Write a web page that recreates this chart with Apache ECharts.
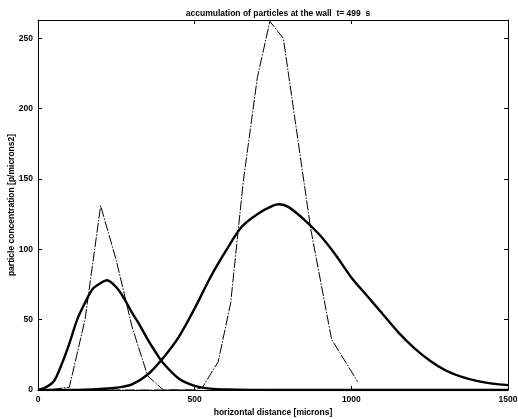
<!DOCTYPE html>
<html>
<head>
<meta charset="utf-8">
<script src="https://cdn.jsdelivr.net/npm/echarts@6/dist/echarts.min.js"></script>
<style>
  html, body { margin: 0; padding: 0; background: #fff; }
  #chart { width: 518px; height: 419px; }
</style>
</head>
<body>
<div id="chart"></div>
<script>
// wide-band curves (thick solid)
const xA = [0, 25, 50, 75, 100, 125, 150, 175, 200, 220, 250, 275, 300, 325, 350, 375, 400, 450, 500, 550, 600, 700, 800, 1500]
const yA = [0, 2, 6, 18, 33, 50, 62, 72, 76, 78, 73, 65, 55, 46, 36, 27, 19, 8, 3, 1, 0.4, 0.1, 0, 0]
const xB = [0, 100, 150, 200, 250, 300, 350, 400, 450, 500, 550, 600, 650, 700, 750, 770, 800, 850, 900, 950, 1000, 1050, 1100, 1150, 1200, 1250, 1300, 1350, 1400, 1450, 1500]
const yB = [0, 0.1, 0.3, 0.8, 1.6, 4, 11, 23, 38, 58, 80, 99, 116, 125, 131, 132, 130, 121, 110, 96, 80, 67, 54, 41, 30, 21, 14, 9.5, 6.5, 4.5, 3.5]
// narrow-band curves (thin dash-dot)
const xC = [0, 50, 100, 150, 200, 250, 300, 350, 400, 500]
const yC = [0, 0.5, 2, 50, 131, 92, 45, 10, 0, 0]
const xD = [0, 500, 525, 575, 615, 655, 700, 740, 783, 870, 937, 1020]
const yD = [0, 0, 2, 20, 62, 148, 222, 262, 250, 115, 36, 6]

const xTicks = [0, 500, 1000, 1500]
const yTicks = [0, 50, 100, 150, 200, 250]

const zip = (xs, ys) => xs.map((x, i) => [x, ys[i]])

const font = { fontFamily: 'Liberation Sans, Arial, sans-serif', fontSize: 8.5, fontWeight: 'bold', color: '#000' }

const line = { color: '#000', width: 1 }
const tick = { show: true, inside: true, length: 4, lineStyle: line }

const xBase = {
  type: 'value',
  min: 0,
  max: 1500,
  interval: 500,
  axisLine: { show: true, onZero: false, lineStyle: line },
  axisTick: tick,
  splitLine: { show: false },
}
const yBase = {
  type: 'value',
  min: 0,
  max: 263,
  interval: 50,
  axisLine: { show: true, onZero: false, lineStyle: line },
  axisTick: tick,
  splitLine: { show: false },
}

const thick = (xs, ys) => ({
  type: 'line',
  data: zip(xs, ys),
  symbol: 'none',
  smooth: 0.3,
  lineStyle: { color: '#000', width: 2.4 },
  emphasis: { disabled: true },
  z: 3,
})
const thin = (xs, ys) => ({
  type: 'line',
  data: zip(xs, ys),
  symbol: 'none',
  smooth: false,
  lineStyle: { color: '#000', width: 1, type: [10, 1.5, 1.5, 1.5] },
  emphasis: { disabled: true },
  z: 2,
})

const chart = echarts.init(document.getElementById('chart'), null, { renderer: 'canvas' })
chart.setOption({
  animation: false,
  backgroundColor: '#fff',
  title: {
    text: 'accumulation of particles at the wall  t= 499  s',
    left: 273,
    top: 4,
    textAlign: 'center',
    textStyle: { ...font },
  },
  grid: { left: 38, right: 10, top: 20, bottom: 29, outerBoundsMode: 'none', containLabel: false },
  xAxis: [
    {
      ...xBase,
      position: 'bottom',
      name: 'horizontal distance [microns]',
      nameLocation: 'middle',
      nameGap: 18,
      nameMoveOverlap: false,
      nameTextStyle: { ...font },
      axisLabel: { ...font, margin: 5, formatter: v => (xTicks.includes(v) ? String(v) : '') },
    },
    { ...xBase, position: 'top', axisLabel: { show: false } },
  ],
  yAxis: [
    {
      ...yBase,
      position: 'left',
      name: 'particle concentration [p/microns2]',
      nameLocation: 'middle',
      nameGap: 22,
      nameMoveOverlap: false,
      nameTextStyle: { ...font },
      axisLabel: { ...font, margin: 5, formatter: v => (yTicks.includes(v) ? String(v) : '') },
    },
    { ...yBase, position: 'right', axisLabel: { show: false } },
  ],
  series: [thick(xA, yA), thick(xB, yB), thin(xC, yC), thin(xD, yD)],
})
</script>
</body>
</html>
